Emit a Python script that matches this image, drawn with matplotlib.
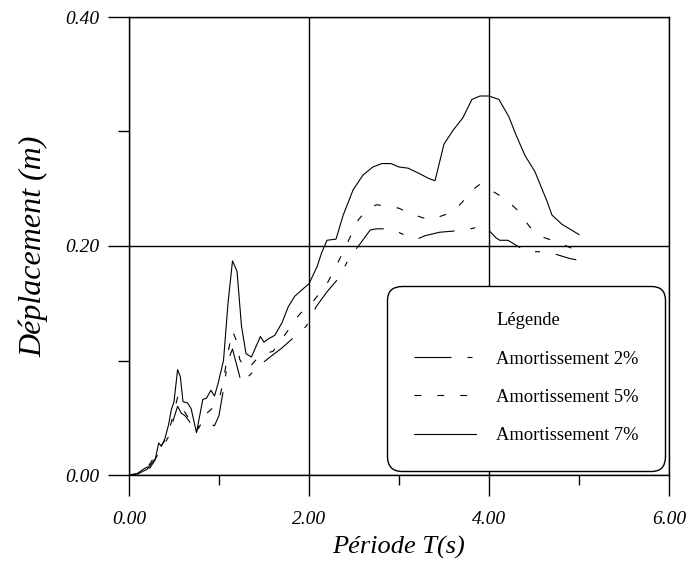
import matplotlib
matplotlib.use("Agg")
import matplotlib.pyplot as plt
from matplotlib.lines import Line2D
from matplotlib.ticker import MultipleLocator, FormatStrFormatter

# ---- data ----
T7 = [0, 0.085, 0.16, 0.20, 0.23, 0.29, 0.33, 0.36, 0.40, 0.44, 0.47, 0.50, 0.54, 0.57,
      0.60, 0.65, 0.69, 0.75, 0.82, 0.86, 0.91, 0.95, 0.99, 1.05, 1.10, 1.15, 1.20, 1.25,
      1.30, 1.36, 1.41, 1.46, 1.50, 1.55, 1.62, 1.70, 1.77, 1.84, 1.94, 2.00, 2.09, 2.14,
      2.20, 2.30, 2.38, 2.49, 2.60, 2.71, 2.81, 2.91, 3.00, 3.10, 3.22, 3.33, 3.40, 3.50,
      3.60, 3.71, 3.81, 3.90, 4.00, 4.11, 4.22, 4.30, 4.40, 4.51, 4.64, 4.70, 4.81, 5.00]
D7 = [0, 0.001, 0.005, 0.007, 0.006, 0.013, 0.028, 0.025, 0.032, 0.044, 0.057, 0.064, 0.092, 0.086,
      0.064, 0.063, 0.058, 0.037, 0.066, 0.067, 0.074, 0.069, 0.080, 0.100, 0.150, 0.187, 0.178, 0.130,
      0.106, 0.103, 0.112, 0.121, 0.116, 0.119, 0.122, 0.133, 0.147, 0.156, 0.163, 0.167, 0.182, 0.194,
      0.205, 0.206, 0.227, 0.249, 0.262, 0.269, 0.272, 0.272, 0.269, 0.268, 0.2635, 0.259, 0.257, 0.289,
      0.301, 0.312, 0.328, 0.331, 0.331, 0.328, 0.313, 0.297, 0.279, 0.265, 0.240, 0.227, 0.219, 0.210]

T5 = [0, 0.1, 0.2, 0.3, 0.35, 0.4, 0.45, 0.5, 0.54, 0.58, 0.62, 0.66, 0.75, 0.82, 0.88, 0.95,
      1.0, 1.05, 1.10, 1.15, 1.19, 1.23, 1.30, 1.36, 1.46, 1.60, 1.71, 1.81, 1.87, 1.95, 2.05,
      2.2, 2.33, 2.44, 2.55, 2.65, 2.75, 2.85, 3.0, 3.1, 3.25, 3.35, 3.5, 3.6, 3.7, 3.8, 3.9,
      3.95, 4.1, 4.2, 4.32, 4.45, 4.55, 4.7, 4.8, 4.95, 5.0]
D5 = [0, 0.001, 0.006, 0.018, 0.025, 0.030, 0.040, 0.055, 0.068, 0.057, 0.055, 0.050, 0.038, 0.052, 0.055, 0.060,
      0.065, 0.083, 0.107, 0.126, 0.118, 0.101, 0.092, 0.096, 0.105, 0.108, 0.120, 0.131, 0.138, 0.145, 0.152,
      0.167, 0.187, 0.205, 0.223, 0.232, 0.236, 0.235, 0.233, 0.229, 0.225, 0.223, 0.227, 0.230, 0.238, 0.248, 0.254,
      0.252, 0.245, 0.240, 0.231, 0.217, 0.209, 0.205, 0.202, 0.197, 0.196]

T2 = [0, 0.1, 0.2, 0.3, 0.35, 0.4, 0.45, 0.5, 0.54, 0.58, 0.62, 0.66, 0.75, 0.82, 0.88, 0.95,
      1.0, 1.05, 1.10, 1.15, 1.2, 1.25, 1.35, 1.47, 1.6, 1.7, 1.8, 1.97, 2.08, 2.2, 2.33, 2.45,
      2.55, 2.68, 2.75, 2.91, 3.05, 3.2, 3.29, 3.45, 3.6, 3.74, 3.85, 3.92, 3.97, 4.08, 4.12,
      4.21, 4.42, 4.65, 4.9, 4.97]
D2 = [0, 0.001, 0.005, 0.015, 0.022, 0.028, 0.035, 0.050, 0.060, 0.054, 0.052, 0.048, 0.037, 0.048, 0.045, 0.043,
      0.052, 0.075, 0.100, 0.110, 0.095, 0.080, 0.088, 0.097, 0.105, 0.111, 0.118, 0.130, 0.147, 0.160, 0.172, 0.190,
      0.200, 0.214, 0.215, 0.215, 0.210, 0.206, 0.209, 0.212, 0.213, 0.214, 0.216, 0.218, 0.216, 0.207, 0.205,
      0.205, 0.195, 0.195, 0.189, 0.188]

labels = ["Amortissement 2%", "Amortissement 5%", "Amortissement 7%"]
xticks = [0, 2, 4, 6]
yticks = [0.0, 0.2, 0.4]

# ---- styles ----
lw = 0.8
ls2 = (0, (33.3, 14.4, 4.5, 14.4))
ls5 = (0, (6.2, 14.4))
ls7 = "-"

plt.rcParams['font.family'] = ['Liberation Serif', 'DejaVu Serif']

fig = plt.figure(figsize=(6.91, 5.61), dpi=100)
ax = fig.add_axes([129/691, 86/561, 540/691, 458/561])

ax.plot(T2, D2, color='black', lw=lw, linestyle=ls2)
ax.plot(T5, D5, color='black', lw=lw, linestyle=ls5)
ax.plot(T7, D7, color='black', lw=lw, linestyle=ls7)

ax.set_xlim(0, 6)
ax.set_ylim(0, 0.4)
ax.set_xticks(xticks)
ax.set_yticks(yticks)
ax.xaxis.set_minor_locator(MultipleLocator(1))
ax.yaxis.set_minor_locator(MultipleLocator(0.1))
ax.xaxis.set_major_formatter(FormatStrFormatter('%.2f'))
ax.yaxis.set_major_formatter(FormatStrFormatter('%.2f'))

ax.grid(True, which='major', color='black', lw=1.0)
for s in ax.spines.values():
    s.set_linewidth(1.0)

ax.tick_params(axis='both', which='major', direction='out', length=15, width=1.0,
               labelsize=14, colors='black')
ax.tick_params(axis='x', which='major', pad=11)
ax.tick_params(axis='y', which='major', pad=6)
ax.tick_params(axis='x', which='minor', direction='out', length=7, width=1.0)
ax.tick_params(axis='y', which='minor', direction='out', length=8, width=1.0)
for lab in ax.get_xticklabels() + ax.get_yticklabels():
    lab.set_fontstyle('italic')

ax.set_xlabel("Période T(s)", fontsize=19, fontstyle='italic')
ax.set_ylabel("Déplacement (m)", fontsize=23, fontstyle='italic')
ax.xaxis.set_label_coords(0.5, -0.133)
ax.yaxis.set_label_coords(-0.150, 0.5)

handles = [Line2D([], [], color='none', lw=0),
           Line2D([], [], color='black', lw=lw, linestyle=ls2),
           Line2D([], [], color='black', lw=lw, linestyle=ls5),
           Line2D([], [], color='black', lw=lw, linestyle=ls7)]
leg = ax.legend(handles, ["Légende"] + labels, loc='lower left',
                bbox_to_anchor=(0.478, 0.009), borderaxespad=0, fontsize=13.3,
                handlelength=3.35, handletextpad=1.1, borderpad=1.45,
                labelspacing=1.15, frameon=True, fancybox=True, framealpha=1,
                edgecolor='black')
leg.get_frame().set_linewidth(1.0)
leg.get_frame().set_boxstyle("round", pad=0, rounding_size=0.8)

fig.savefig("out.png", dpi=100)
